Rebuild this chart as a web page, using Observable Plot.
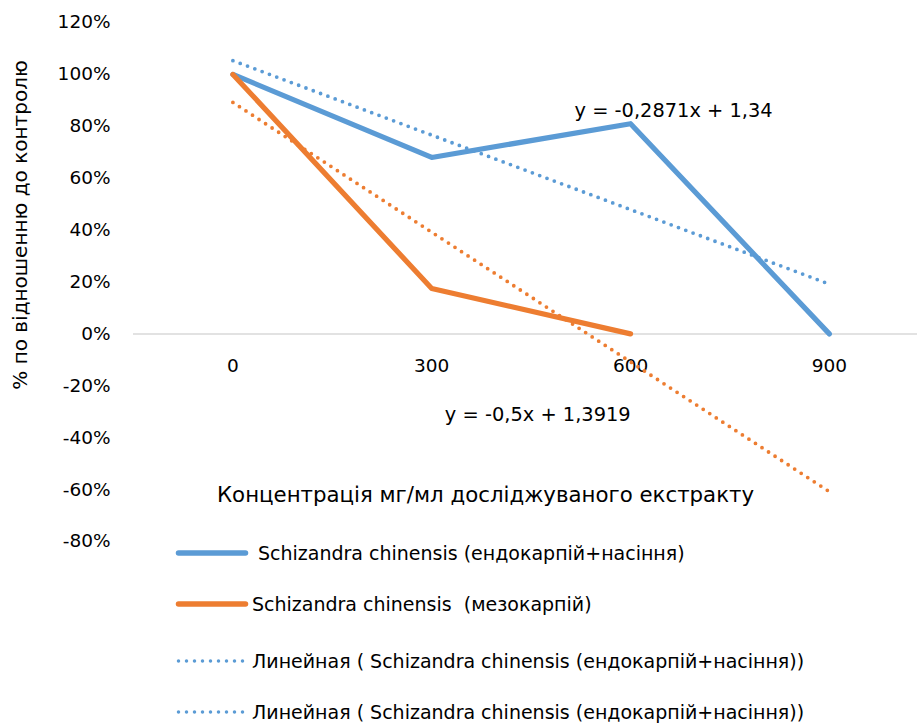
<!DOCTYPE html>
<html><head><meta charset="utf-8">
<script src="https://cdn.jsdelivr.net/npm/d3@7"></script>
<script src="https://cdn.jsdelivr.net/npm/@observablehq/plot@0.6"></script>
<style>
body{margin:0;background:#fff;font-family:"DejaVu Sans",sans-serif;}
#wrap{position:relative;width:917px;height:725px;overflow:hidden;}
#wrap svg{overflow:visible;}
.row{position:absolute;left:176px;height:24px;display:flex;align-items:center;white-space:pre;font-size:19px;color:#000;}
.row svg{flex:none;}
</style></head><body><div id="wrap"></div>
<script>
// Data
const concentrations = [0, 300, 600, 900];
const endocarp = [1.00, 0.68, 0.81, 0.00];          // Schizandra chinensis (ендокарпій+насіння)
const mesocarp = [1.00, 0.175, 0.00];               // Schizandra chinensis (мезокарпій), no value at 900
const endocarpTrend = [1.053, 0.766, 0.479, 0.192]; // linear trend, y = -0,2871x + 1,34
const mesocarpTrend = [0.892, 0.392, -0.108, -0.608]; // linear trend, y = -0,5x + 1,3919
const yTicks = [-0.8, -0.6, -0.4, -0.2, 0, 0.2, 0.4, 0.6, 0.8, 1.0, 1.2];
const seriesNames = [
  "Schizandra chinensis (ендокарпій+насіння)",
  "Schizandra chinensis  (мезокарпій)",
  "Линейная ( Schizandra chinensis (ендокарпій+насіння))",
  "Линейная ( Schizandra chinensis (ендокарпій+насіння))"
];
const eqLabels = ["y = -0,2871x + 1,34", "y = -0,5x + 1,3919"];
const xTitle = "Концентрація мг/мл досліджуваного екстракту";
const yTitle = "% по відношенню до контролю";

const BLUE = "#5B9BD5", ORANGE = "#ED7D31";

const toRows = (vals, name) => vals.map((v, i) => ({x: concentrations[i], y: v, name}));
const endoRows = toRows(endocarp, "endo");
const mesoRows = toRows(mesocarp, "meso");
const endoTrendRows = toRows(endocarpTrend, "endoT");
const mesoTrendRows = toRows(mesocarpTrend, "mesoT");

const pct = d => Math.round(d * 100) + "%";
const FONT = "DejaVu Sans";

const chart = Plot.plot({
  width: 917,
  height: 552,
  marginLeft: 133,
  marginRight: 0,
  marginTop: 22,
  marginBottom: 11,
  style: {fontFamily: FONT, fontSize: "18.5px", color: "#000", background: "transparent", overflow: "visible"},
  x: {domain: [-150, 1033], axis: null},
  y: {domain: [-0.8, 1.2], axis: null},
  marks: [
    Plot.ruleY([0], {stroke: "#D9D9D9", strokeWidth: 1.5}),
    Plot.axisY({ticks: yTicks, tickFormat: pct, tickSize: 0, tickPadding: 23, fontSize: 18.5, fill: "#000", label: null}),
    Plot.text(concentrations, {x: d => d, y: () => 0, dy: 32, text: d => String(d), fontSize: 18.5, fill: "#000"}),
    Plot.line(endoRows, {x: "x", y: "y", stroke: BLUE, strokeWidth: 5.2, strokeLinecap: "round", strokeLinejoin: "round"}),
    Plot.line(mesoRows, {x: "x", y: "y", stroke: ORANGE, strokeWidth: 5.2, strokeLinecap: "round", strokeLinejoin: "round"}),
    Plot.line(endoTrendRows, {x: "x", y: "y", stroke: BLUE, strokeWidth: 3.8, strokeLinecap: "round", strokeDasharray: "0 7.8"}),
    Plot.line(mesoTrendRows, {x: "x", y: "y", stroke: ORANGE, strokeWidth: 3.8, strokeLinecap: "round", strokeDasharray: "0 7.8"}),
    Plot.text([eqLabels[0]], {x: () => 665, y: () => 0.858, text: d => d, fontSize: 19.4, fill: "#000"}),
    Plot.text([eqLabels[1]], {x: () => 460, y: () => -0.31, text: d => d, fontSize: 19.4, fill: "#000"}),
    Plot.text([xTitle], {frameAnchor: "bottom", textAnchor: "middle", dx: -40, dy: -40, text: d => d, fontSize: 21.3, fill: "#000"}),
    Plot.text([yTitle], {frameAnchor: "left", textAnchor: "middle", lineAnchor: "middle", dx: -113, dy: -57, rotate: -90, text: d => d, fontSize: 20, fill: "#000"})
  ]
});
const wrap = document.getElementById("wrap");
wrap.appendChild(chart);

// Legend below the plot
const rowCenters = [553, 604, 661, 712];
const textGaps = [11, 5, 5, 5];
const legendStyles = [
  {stroke: BLUE, width: 5.5, dash: null},
  {stroke: ORANGE, width: 5.5, dash: null},
  {stroke: BLUE, width: 3.5, dash: "0 8"},
  {stroke: BLUE, width: 3.5, dash: "0 8"}
];
seriesNames.forEach((name, i) => {
  const row = document.createElement("div");
  row.className = "row";
  row.style.top = (rowCenters[i] - 12) + "px";
  const st = legendStyles[i];
  const sw = d3.create("svg").attr("width", 72).attr("height", 24);
  sw.append("line").attr("x1", 2.5).attr("x2", 69.5).attr("y1", 12).attr("y2", 12)
    .attr("stroke", st.stroke).attr("stroke-width", st.width).attr("stroke-linecap", "round")
    .attr("stroke-dasharray", st.dash);
  row.appendChild(sw.node());
  const t = document.createElement("span");
  t.textContent = name;
  t.style.marginLeft = (textGaps[i] - 1) + "px";
  row.appendChild(t);
  wrap.appendChild(row);
});
</script></body></html>
